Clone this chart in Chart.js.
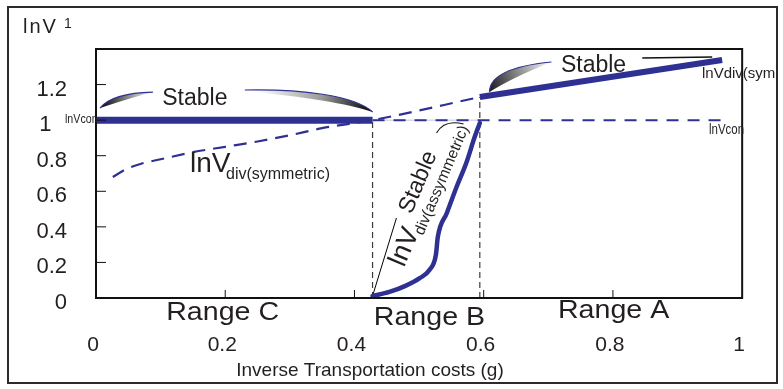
<!DOCTYPE html>
<html><head><meta charset="utf-8">
<script src="https://cdn.jsdelivr.net/npm/chart.js@4.4.1/dist/chart.umd.min.js"></script>
<style>html,body{margin:0;padding:0;background:#fff;}#wrap{width:783px;height:389px;}</style>
</head><body><div id="wrap"><canvas id="c" width="783" height="389"></canvas></div>
<script>
// ---- data ----
const xTicks = [0, 0.2, 0.4, 0.6, 0.8, 1];
const xTickLabels = ['0', '0.2', '0.4', '0.6', '0.8', '1'];
const yTicks = [0, 0.2, 0.4, 0.6, 0.8, 1, 1.2];
const yTickLabels = ['0', '0.2', '0.4', '0.6', '0.8', '1', '1.2'];

const conSolidX = [0, 0.428];
const conSolidY = [1, 1];
const conDashX = [0.428, 0.98];
const conDashY = [1, 1];
const symDashX = [0.026, 0.045, 0.07, 0.1, 0.15, 0.2, 0.25, 0.3, 0.35, 0.428, 0.594];
const symDashY = [0.68, 0.722, 0.755, 0.78, 0.82, 0.85, 0.88, 0.915, 0.955, 1.0, 1.13];
const symSolidX = [0.594, 0.969];
const symSolidY = [1.13, 1.338];
const asymX = [0.428, 0.454, 0.478, 0.501, 0.516, 0.526, 0.529, 0.543, 0.558, 0.573, 0.586, 0.594];
const asymY = [0.011, 0.034, 0.067, 0.112, 0.157, 0.242, 0.343, 0.478, 0.624, 0.759, 0.905, 0.984];
const thresholdX = [0.428, 0.594];
const thresholdTop = [1.0, 1.13];
const leaderX = [0.428, 0.465];
const leaderY = [0.011, 0.45];
const rangeNames = ['Range C', 'Range B', 'Range A'];
const rangeCenters = [0.196, 0.516, 0.801];

const FONT = "'Liberation Sans', Arial, Helvetica, sans-serif";
const BLUE = '#2e3192';
const INK = '#231f20';

function pts(xs, ys) { return xs.map((x, i) => ({ x: x, y: ys[i] })); }

const datasets = [
  { label: 'lnVdiv(assymmetric)', data: pts(asymX, asymY), borderColor: BLUE, borderWidth: 4.5, cubicInterpolationMode: 'monotone', borderCapStyle: 'round' },
  { label: 'lnVdiv(symmetric) stable', data: pts(symSolidX, symSolidY), borderColor: BLUE, borderWidth: 6 },
  { label: 'lnVcon stable', data: pts(conSolidX, conSolidY), borderColor: BLUE, borderWidth: 7, borderCapStyle: 'butt' },
  { label: 'leader', data: pts(leaderX, leaderY), borderColor: '#000', borderWidth: 1 },
  { label: 'lnVdiv(symmetric)', data: pts(symDashX, symDashY), borderColor: BLUE, borderWidth: 2.2, borderDash: [13, 8], cubicInterpolationMode: 'monotone' },
  { label: 'lnVcon', data: pts(conDashX, conDashY), borderColor: BLUE, borderWidth: 2, borderDash: [12, 9] },
  { label: 'guide', data: pts(thresholdX, [1, 1]), borderColor: '#c3c6de', borderWidth: 1 },
  { label: 'threshold CB', data: pts([thresholdX[0], thresholdX[0]], [0, thresholdTop[0]]), borderColor: '#3a3a3a', borderWidth: 1.2, borderDash: [6, 4] },
  { label: 'threshold BA', data: pts([thresholdX[1], thresholdX[1]], [0, thresholdTop[1]]), borderColor: '#3a3a3a', borderWidth: 1.2, borderDash: [6, 4] }
].map(d => Object.assign({ showLine: true, pointRadius: 0, fill: false, tension: 0 }, d));

function txt(ctx, s, x, y, size, o) {
  o = o || {};
  ctx.save();
  ctx.font = size + 'px ' + FONT;
  ctx.fillStyle = o.color || INK;
  ctx.textAlign = o.align || 'left';
  ctx.textBaseline = 'alphabetic';
  if (o.ls) ctx.letterSpacing = o.ls;
  ctx.translate(x, y);
  if (o.rot) ctx.rotate(o.rot);
  if (o.sx) ctx.scale(o.sx, 1);
  ctx.fillText(s, o.dx || 0, o.dy || 0);
  ctx.restore();
}

const decor = {
  id: 'decor',
  beforeDraw(chart) {
    const ctx = chart.ctx;
    ctx.save(); ctx.fillStyle = '#fff'; ctx.fillRect(0, 0, chart.width, chart.height); ctx.restore();
  },
  afterDatasetsDraw(chart) {
    const ctx = chart.ctx, xs = chart.scales.x, ys = chart.scales.y, a = chart.chartArea;
    const X = v => xs.getPixelForValue(v), Y = v => ys.getPixelForValue(v);
    ctx.save();
    // outer frame
    ctx.strokeStyle = '#2b2b2b'; ctx.lineWidth = 2;
    ctx.strokeRect(8, 7, 769, 376);
    // plot box
    ctx.strokeStyle = '#111'; ctx.lineWidth = 2;
    ctx.strokeRect(a.left, a.top, a.right - a.left, a.bottom - a.top);
    // inward tick marks
    ctx.lineWidth = 1; ctx.strokeStyle = '#111';
    xTicks.forEach(v => { if (v > 0 && v < 1) { ctx.beginPath(); ctx.moveTo(X(v), a.bottom); ctx.lineTo(X(v), a.bottom - 8); ctx.stroke(); } });
    yTicks.forEach(v => { if (v > 0) { ctx.beginPath(); ctx.moveTo(a.left, Y(v)); ctx.lineTo(a.left + 10, Y(v)); ctx.stroke(); } });

    // "Stable" crescents
    function crescent(p0, c1, p1, c2, g0, g1, rev) {
      const grad = ctx.createLinearGradient(X(g0[0]), Y(g0[1]), X(g1[0]), Y(g1[1]));
      grad.addColorStop(0, rev ? '#ffffff' : '#000000');
      grad.addColorStop(1, rev ? '#000000' : '#ffffff');
      ctx.beginPath();
      ctx.moveTo(X(p0[0]), Y(p0[1]));
      ctx.quadraticCurveTo(X(c1[0]), Y(c1[1]), X(p1[0]), Y(p1[1]));
      ctx.quadraticCurveTo(X(c2[0]), Y(c2[1]), X(p0[0]), Y(p0[1]));
      ctx.fillStyle = grad; ctx.fill();
      ctx.beginPath();
      ctx.moveTo(X(p0[0]), Y(p0[1]));
      ctx.quadraticCurveTo(X(c1[0]), Y(c1[1]), X(p1[0]), Y(p1[1]));
      ctx.strokeStyle = BLUE; ctx.lineWidth = 1.2; ctx.stroke();
    }
    crescent([0.0062, 1.068], [0.0247, 1.153], [0.0881, 1.158], [0.0526, 1.124], [0.0062, 1.068], [0.0881, 1.158], false);
    crescent([0.609, 1.158], [0.609, 1.293], [0.7048, 1.3269], [0.643, 1.2369], [0.5966, 1.158], [0.7048, 1.3269], false);
    // large crescent (cubic)
    (function () {
      const grad = ctx.createLinearGradient(X(0.25), Y(1.16), X(0.4281), Y(1.05));
      grad.addColorStop(0, '#ffffff'); grad.addColorStop(0.55, '#9a9a9a'); grad.addColorStop(1, '#000000');
      ctx.beginPath();
      ctx.moveTo(X(0.2303), Y(1.1695));
      ctx.bezierCurveTo(X(0.3153), Y(1.1751), X(0.4003), Y(1.1413), X(0.4281), Y(1.0458));
      ctx.bezierCurveTo(X(0.3926), Y(1.0907), X(0.3153), Y(1.1357), X(0.2427), Y(1.1582));
      ctx.closePath(); ctx.fillStyle = grad; ctx.fill();
      ctx.beginPath();
      ctx.moveTo(X(0.2303), Y(1.1695));
      ctx.bezierCurveTo(X(0.3153), Y(1.1751), X(0.4003), Y(1.1413), X(0.4281), Y(1.0458));
      ctx.strokeStyle = BLUE; ctx.lineWidth = 1.2; ctx.stroke();
    })();
    // right "Stable" tail line
    ctx.beginPath(); ctx.moveTo(X(0.8454), Y(1.3494)); ctx.lineTo(X(0.9536), Y(1.355));
    ctx.strokeStyle = '#111'; ctx.lineWidth = 1.3; ctx.stroke();
    // arc over rotated label
    ctx.beginPath(); ctx.moveTo(X(0.527), Y(0.928)); ctx.quadraticCurveTo(X(0.5394), Y(1.006), X(0.5688), Y(0.978));
    ctx.strokeStyle = '#111'; ctx.lineWidth = 1.1; ctx.stroke();

    // texts
    txt(ctx, 'lnV', 23, 33, 20, { ls: '2px' });
    txt(ctx, '1', 64, 28, 14);
    txt(ctx, 'Stable', X(0.153), 105, 23, { align: 'center' });
    txt(ctx, 'Stable', X(0.77), 72, 23, { align: 'center' });
    txt(ctx, 'lnVcon', 65, 123, 13, { sx: 0.82 });
    txt(ctx, 'lnVcon', 709, 134, 14, { sx: 0.82 });
    txt(ctx, 'lnVdiv(sym', 702, 78, 15, { sx: 1.0 });
    txt(ctx, 'lnV', 190, 172, 28);
    txt(ctx, 'div(symmetric)', 226, 179, 16);
    const rot = -67 * Math.PI / 180;
    txt(ctx, 'lnV', 404, 268, 27, { rot: rot });
    txt(ctx, 'div(assymmetric)', 404, 268, 15.5, { rot: rot, dx: 37, dy: 5 });
    txt(ctx, 'Stable', 404, 268, 23, { rot: rot, dx: 52, dy: -14 });
    txt(ctx, rangeNames[0], X(rangeCenters[0]), 320, 26, { align: 'center', sx: 1.1 });
    txt(ctx, rangeNames[1], X(rangeCenters[1]), 325, 26, { align: 'center', sx: 1.1 });
    txt(ctx, rangeNames[2], X(rangeCenters[2]), 318, 26, { align: 'center', sx: 1.1 });
    txt(ctx, 'Inverse Transportation costs (g)', 370, 376, 19, { align: 'center' });
    ctx.restore();
  }
};

new Chart(document.getElementById('c'), {
  type: 'scatter',
  data: { datasets: datasets },
  options: {
    responsive: false,
    animation: false,
    devicePixelRatio: 1,
    layout: { padding: { left: 0, top: 49, right: 40, bottom: 0 } },
    plugins: { legend: { display: false }, tooltip: { enabled: false } },
    scales: {
      x: {
        type: 'linear', min: 0, max: 1,
        afterBuildTicks: s => { s.ticks = xTicks.map(v => ({ value: v })); },
        afterFit: s => { s.height = 91; },
        grid: { display: false, drawTicks: false }, border: { display: false },
        ticks: { callback: (v, i) => xTickLabels[i], font: { family: FONT, size: 21 }, color: INK, padding: 35, labelOffset: -3, maxRotation: 0, autoSkip: false }
      },
      y: {
        type: 'linear', min: 0, max: 1.4,
        afterBuildTicks: s => { s.ticks = yTicks.map(v => ({ value: v })); },
        afterFit: s => { s.width = 96; },
        grid: { display: false, drawTicks: false }, border: { display: false },
        ticks: {
          callback: (v, i) => yTickLabels[i] === '1' ? '1\u2002\u2009' : yTickLabels[i],
          font: { family: FONT, size: 22 }, color: INK, padding: 29, labelOffset: 5, autoSkip: false
        }
      }
    }
  },
  plugins: [decor]
});
</script>
</body></html>
